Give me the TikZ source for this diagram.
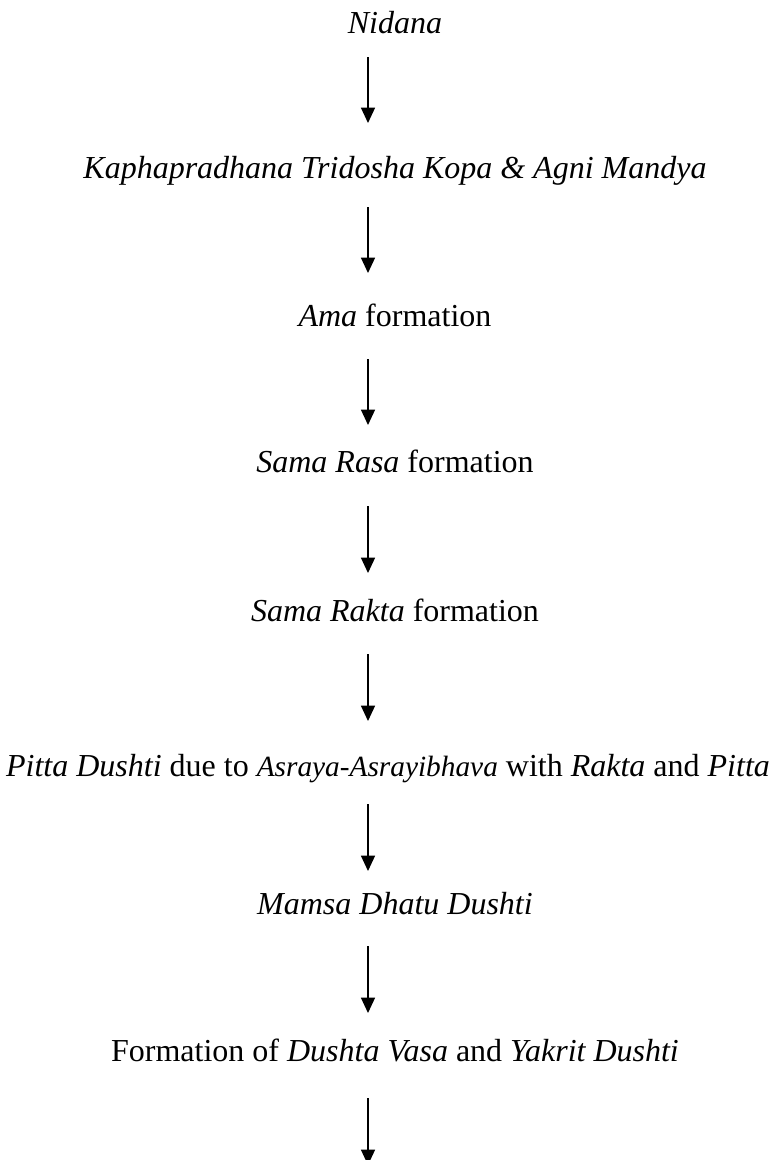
\documentclass[tikz,border=0pt]{standalone}
\usepackage{fontspec}
\setmainfont{Liberation Serif}
\usetikzlibrary{arrows.meta}
\tikzset{
  lbl/.style={anchor=base, inner sep=0pt, font=\fontsize{24}{28}\selectfont},
  arr/.style={line width=1pt, -{Triangle[width=10.5pt,length=11.5pt]}}
}
\newcommand{\smallit}[1]{{\fontsize{22}{26}\selectfont\textit{#1}}}
\begin{document}
\begin{tikzpicture}[x=0.75pt,y=-0.75pt]
\useasboundingbox (0,0) rectangle (777,1160);
\node[lbl] (n1) at (395,33) {\textit{Nidana}};
\node[lbl] (n2) at (395,178) {\textit{Kaphapradhana Tridosha Kopa \& Agni Mandya}};
\node[lbl] (n3) at (395,326) {\textit{Ama} formation};
\node[lbl] (n4) at (395,472) {\textit{Sama Rasa} formation};
\node[lbl] (n5) at (395,621) {\textit{Sama Rakta} formation};
\node[lbl] (n6) at (388,776) {\textit{Pitta Dushti} due to \smallit{Asraya-Asrayibhava} with \textit{Rakta} and \textit{Pitta}};
\node[lbl] (n7) at (395,914) {\textit{Mamsa Dhatu Dushti}};
\node[lbl] (n8) at (395,1061) {Formation of \textit{Dushta Vasa} and \textit{Yakrit Dushti}};
\coordinate (a1s) at (368,57);   \coordinate (a1e) at (368,123);
\coordinate (a2s) at (368,207);  \coordinate (a2e) at (368,273);
\coordinate (a3s) at (368,359);  \coordinate (a3e) at (368,425);
\coordinate (a4s) at (368,506);  \coordinate (a4e) at (368,573);
\coordinate (a5s) at (368,654);  \coordinate (a5e) at (368,721);
\coordinate (a6s) at (368,804);  \coordinate (a6e) at (368,871);
\coordinate (a7s) at (368,946);  \coordinate (a7e) at (368,1013);
\coordinate (a8s) at (368,1098); \coordinate (a8e) at (368,1165);
\foreach \i in {1,...,8} { \draw[arr] (a\i s) -- (a\i e); }
\end{tikzpicture}
\end{document}
